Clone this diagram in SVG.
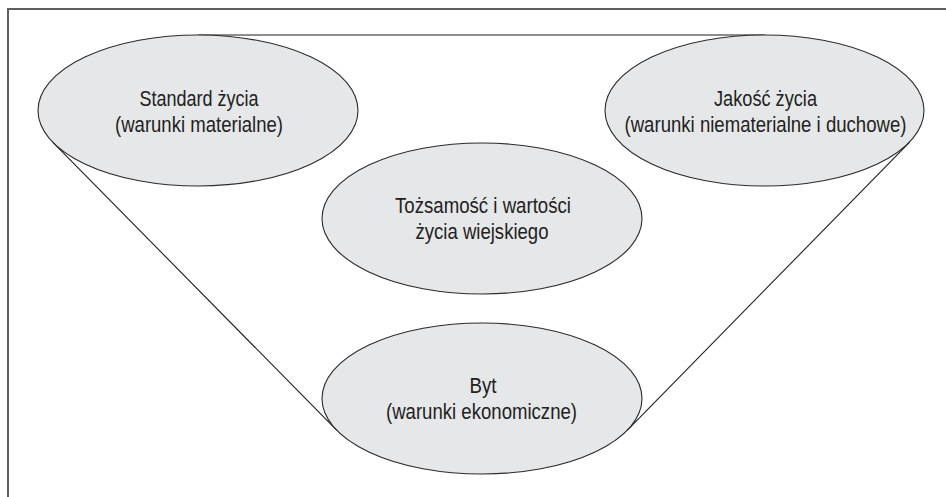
<svg xmlns="http://www.w3.org/2000/svg" width="946" height="497" viewBox="0 0 946 497">
<style>
.node ellipse{fill:#e6e7e8;stroke:#2b2b2b;stroke-width:1.1}
.node text{font-family:"Liberation Sans",Arial,sans-serif;font-size:21.5px;fill:#222222;text-anchor:middle}
.conn line{stroke:#1e1e1e;stroke-width:1.1}
.frame{stroke:#5f5f5f;stroke-width:2;fill:none}
</style>
<rect width="946" height="497" fill="#ffffff"/>
<path class="frame" d="M8 497 V9 H946"/>
<g id="connectors" class="conn">
<line x1="198" y1="35" x2="764.5" y2="35"/>
<line x1="52.9" y1="142.4" x2="336.9" y2="430.4"/>
<line x1="909.7" y1="142.2" x2="627.2" y2="430.3"/>
</g>
<g id="standard" class="node">
<ellipse cx="198" cy="110.5" rx="160" ry="75.5"/>
<text x="199" y="105.5" textLength="119" lengthAdjust="spacingAndGlyphs">Standard życia</text>
<text x="199" y="132" textLength="168" lengthAdjust="spacingAndGlyphs">(warunki materialne)</text>
</g>
<g id="jakosc" class="node">
<ellipse cx="764.5" cy="110.5" rx="159.5" ry="75.5"/>
<text x="765.5" y="105.5" textLength="103" lengthAdjust="spacingAndGlyphs">Jakość życia</text>
<text x="765.5" y="132" textLength="282" lengthAdjust="spacingAndGlyphs">(warunki niematerialne i duchowe)</text>
</g>
<g id="tozsamosc" class="node">
<ellipse cx="482" cy="218.5" rx="160" ry="75.5"/>
<text x="483" y="212.8" textLength="176" lengthAdjust="spacingAndGlyphs">Tożsamość i wartości</text>
<text x="482" y="238.5" textLength="133" lengthAdjust="spacingAndGlyphs">życia wiejskiego</text>
</g>
<g id="byt" class="node">
<ellipse cx="482" cy="398.5" rx="160" ry="75.5"/>
<text x="483" y="393" textLength="27" lengthAdjust="spacingAndGlyphs">Byt</text>
<text x="481.5" y="418.5" textLength="191" lengthAdjust="spacingAndGlyphs">(warunki ekonomiczne)</text>
</g>
</svg>
